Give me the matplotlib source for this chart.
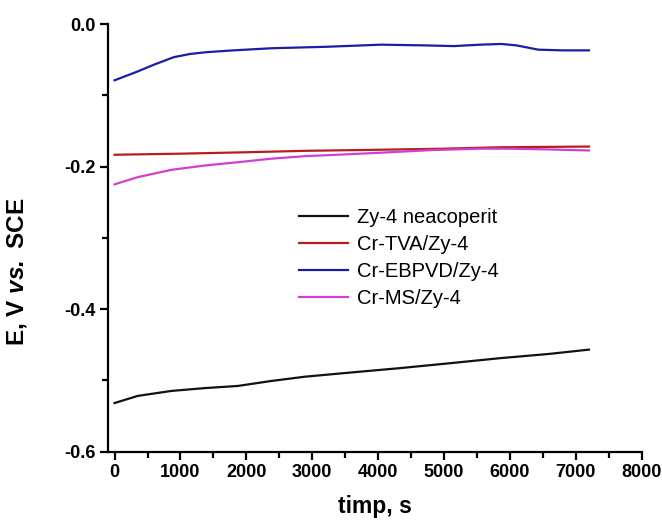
import matplotlib
matplotlib.use("Agg")
import matplotlib.pyplot as plt
from matplotlib.ticker import MultipleLocator

plt.rcParams['font.family'] = ['Liberation Sans', 'DejaVu Sans']
plt.rcParams['mathtext.fontset'] = 'custom'
plt.rcParams['mathtext.rm'] = 'Liberation Sans:bold'
plt.rcParams['mathtext.bf'] = 'Liberation Sans:bold'
plt.rcParams['mathtext.it'] = 'Liberation Sans:bold:italic'
plt.rcParams['mathtext.bfit'] = 'Liberation Sans:bold:italic'

# ---- data ----
t_black = [0, 350, 860, 1370, 1870, 2380, 2890, 3600, 4330, 5100, 5850, 6600, 7200]
e_black = [-0.532, -0.522, -0.515, -0.511, -0.508, -0.501, -0.495, -0.489, -0.483, -0.476, -0.469, -0.463, -0.457]

t_red = [0, 1000, 2000, 2890, 4000, 5000, 5850, 6500, 7200]
e_red = [-0.1835, -0.182, -0.180, -0.178, -0.1765, -0.175, -0.173, -0.1725, -0.172]

t_blue = [0, 340, 600, 900, 1150, 1400, 1800, 2390, 3200, 4050, 4700, 5150, 5550, 5870, 6100, 6430, 6800, 7200]
e_blue = [-0.079, -0.067, -0.057, -0.0465, -0.042, -0.0395, -0.037, -0.034, -0.032, -0.029, -0.030, -0.031, -0.029, -0.028, -0.030, -0.036, -0.037, -0.037]

t_mag = [0, 350, 860, 1370, 1870, 2380, 2890, 3500, 4180, 4800, 5550, 6000, 6560, 7200]
e_mag = [-0.225, -0.215, -0.2047, -0.1986, -0.194, -0.189, -0.1855, -0.183, -0.180, -0.177, -0.175, -0.175, -0.176, -0.1775]

labels = ['Zy-4 neacoperit', 'Cr-TVA/Zy-4', 'Cr-EBPVD/Zy-4', 'Cr-MS/Zy-4']
colors = ['#111111', '#b81c1c', '#1c1ca6', '#d13fd1']

fig = plt.figure(figsize=(6.62, 5.23), dpi=100)
ax = fig.add_axes([0.1631, 0.1367, 0.8062, 0.8174])

for t, e, lab, c in zip([t_black, t_red, t_blue, t_mag], [e_black, e_red, e_blue, e_mag], labels, colors):
    ax.plot(t, e, color=c, lw=1.6, label=lab)

ax.set_xlim(-100, 8000)
ax.set_ylim(-0.6, 0.0)
ax.xaxis.set_major_locator(MultipleLocator(1000))
ax.xaxis.set_minor_locator(MultipleLocator(500))
ax.yaxis.set_major_locator(MultipleLocator(0.2))
ax.yaxis.set_minor_locator(MultipleLocator(0.1))
ax.yaxis.set_major_formatter(matplotlib.ticker.FuncFormatter(lambda v, p: f"{v:.1f}"))

for s in ['top', 'right']:
    ax.spines[s].set_visible(False)
for s in ['left', 'bottom']:
    ax.spines[s].set_linewidth(1.6)

ax.tick_params(which='major', direction='out', length=6, width=1.6, labelsize=13, pad=3)
ax.tick_params(which='minor', direction='out', length=4, width=1.6)
for lbl in ax.get_xticklabels() + ax.get_yticklabels():
    lbl.set_fontweight('bold')

ax.set_xlabel('timp, s', fontsize=16.5, fontweight='bold', labelpad=10)
ax.set_ylabel(r'E, V $\mathbfit{vs.}$ SCE', fontsize=17.5, fontweight='bold')
ax.yaxis.set_label_coords(-0.148, 0.42)

leg = ax.legend(loc='upper left', bbox_to_anchor=(0.342, 0.588), frameon=False,
                fontsize=14.5, handlelength=2.45, handletextpad=0.45, labelspacing=0.4,
                borderaxespad=0)

fig.savefig('out.png', dpi=100)
